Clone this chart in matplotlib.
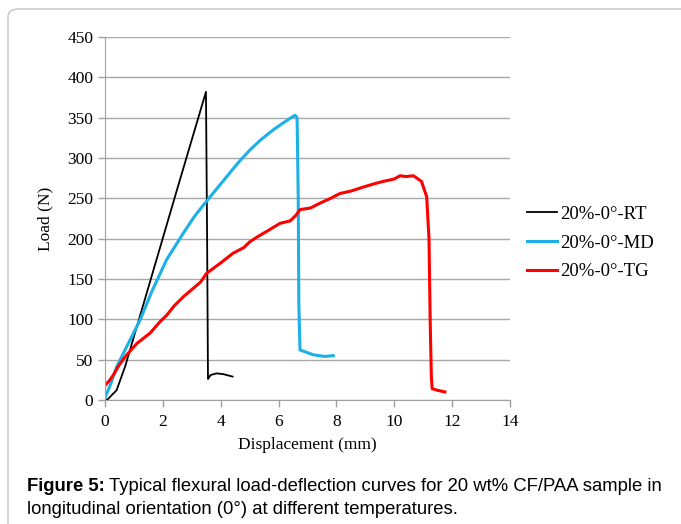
import matplotlib
matplotlib.use("Agg")
import matplotlib.pyplot as plt
from matplotlib.patches import FancyBboxPatch

# values (displacement in mm, load in N)
rt_x = [0.0, 0.1, 0.23, 0.4, 0.7, 1.56, 2.5, 3.49, 3.53, 3.56, 3.65, 3.86, 4.1, 4.41]
rt_y = [0, 1, 6, 12, 42, 147, 262, 382, 200, 26, 31, 33, 32, 29]

md_x = [0.0, 0.2, 0.4, 0.86, 1.21, 1.6, 2.13, 2.71, 3.1, 3.5, 4.21, 4.6, 5.01, 5.4,
        5.82, 6.1, 6.39, 6.57, 6.64, 6.68, 6.70, 6.74, 6.9, 7.05, 7.2, 7.4, 7.6, 7.89]
md_y = [3, 20, 41, 74, 99, 133, 174, 207, 228, 246, 277, 294, 310, 323,
        335, 342, 349, 353, 350, 250, 120, 62, 60, 58, 56, 55, 54, 55]

tg_x = [0.0, 0.15, 0.29, 0.5, 0.75, 1.1, 1.56, 1.9, 2.13, 2.4, 2.71, 3.1, 3.3, 3.51,
        4.0, 4.43, 4.8, 5.0, 5.3, 5.59, 6.05, 6.4, 6.6, 6.74, 7.1, 7.43, 7.8, 8.12,
        8.5, 8.93, 9.3, 9.62, 10.0, 10.2, 10.4, 10.66, 10.94, 11.12, 11.2, 11.24,
        11.28, 11.31, 11.5, 11.75]
tg_y = [18, 24, 31, 44, 56, 70, 83, 97, 105, 117, 128, 140, 146, 157,
        170, 182, 189, 196, 203, 209, 219, 222, 229, 236, 238, 244, 250, 256,
        259, 264, 268, 271, 274, 278, 277, 278, 271, 252, 200, 100, 30, 14, 12, 10]

x_ticks = [0, 2, 4, 6, 8, 10, 12, 14]
y_ticks = list(range(0, 451, 50))

fig = plt.figure(figsize=(6.81, 5.24), dpi=100)

# light rounded frame around the figure
frame = FancyBboxPatch((8 / 681, -0.1), 1.1, 1.1 - 9 / 524,
                       boxstyle="round,pad=0,rounding_size=0.015",
                       transform=fig.transFigure, fill=False,
                       edgecolor="#c4c4c4", linewidth=1.0)
fig.patches.append(frame)

ax = fig.add_axes([105 / 681, 1 - 400 / 524, 405 / 681, 363 / 524])
serif = "Liberation Serif"

ax.plot(rt_x, rt_y, color="black", lw=1.3, label="20%-0°-RT")
ax.plot(md_x, md_y, color="#1bb1e7", lw=2.2, label="20%-0°-MD")
ax.plot(tg_x, tg_y, color="#ff0000", lw=2.2, label="20%-0°-TG")

ax.set_xlim(0, 14)
ax.set_ylim(0, 450)
ax.set_xticks(x_ticks)
ax.set_yticks(y_ticks)
ax.yaxis.grid(True, color="#a8a8a8", lw=1.0)
ax.set_axisbelow(True)
for side in ["top", "right"]:
    ax.spines[side].set_visible(False)
for side in ["left", "bottom"]:
    ax.spines[side].set_color("#a0a0a0")
ax.tick_params(axis="both", colors="#a0a0a0", length=5, width=1.0,
               labelcolor="black", labelsize=12.5)
ax.tick_params(axis="x", pad=5)
for lbl in ax.get_xticklabels() + ax.get_yticklabels():
    lbl.set_family(serif)

ax.set_xlabel("Displacement (mm)", family=serif, fontsize=12.5, labelpad=5)
ax.set_ylabel("Load (N)", family=serif, fontsize=12.5, labelpad=10)

ax.legend(loc="center left", bbox_to_anchor=(1.0, 0.4325), frameon=False,
          prop={"family": serif, "size": 13.5}, handlelength=1.6,
          handletextpad=0.15, labelspacing=0.62)

# caption: bold lead-in followed by regular text
cap_y = 1 - 491 / 524
bold = fig.text(27 / 681, cap_y, "Figure 5:", fontsize=13.3, fontweight="bold",
                family="Liberation Sans", va="baseline")
renderer = fig.canvas.get_renderer()
bb = bold.get_window_extent(renderer)
fig.text(bb.x1 / 681 + 4 / 681, cap_y,
         "Typical flexural load-deflection curves for 20 wt% CF/PAA sample in",
         fontsize=13.3, family="Liberation Sans", va="baseline")
fig.text(27 / 681, 1 - 514 / 524,
         "longitudinal orientation (0°) at different temperatures.",
         fontsize=13.3, family="Liberation Sans", va="baseline")

fig.savefig("out.png", dpi=100)
